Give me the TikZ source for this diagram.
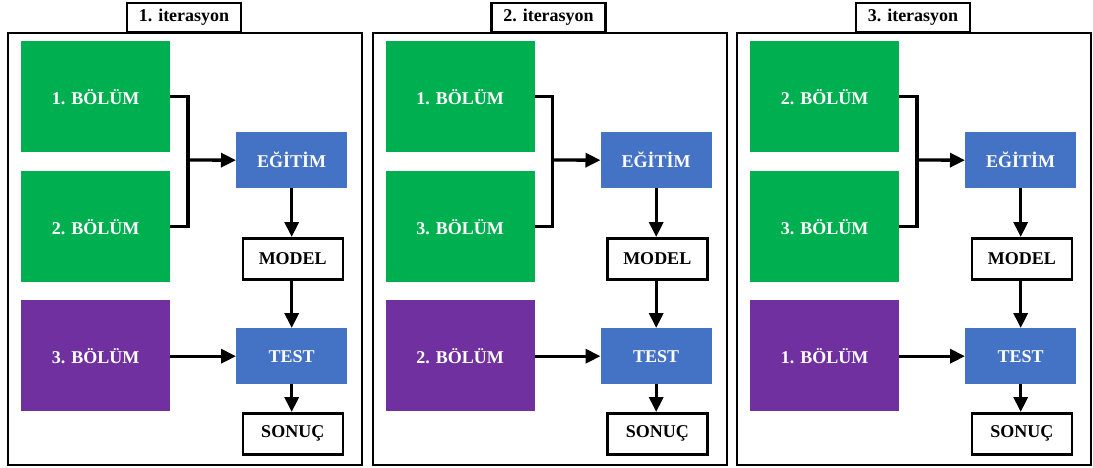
\documentclass[tikz,border=0pt]{standalone}
\usepackage{fontspec}
\setmainfont{Liberation Serif}
\usetikzlibrary{arrows.meta}
\definecolor{grn}{HTML}{00B050}
\definecolor{blu}{HTML}{4472C4}
\definecolor{pur}{HTML}{7030A0}
\begin{document}
\begin{tikzpicture}[x=1pt,y=-1pt,
  lbl/.style={font=\bfseries\fontsize{18}{20}\selectfont, inner sep=0pt, anchor=north west},
  part/.style={lbl, minimum width=149pt, minimum height=111pt, text=white},
  stage/.style={lbl, minimum width=111pt, minimum height=56pt, fill=blu, text=white},
  result/.style={lbl, minimum width=100pt, minimum height=41pt, draw=black, line width=2.5pt, fill=white},
  panel/.style={anchor=north west, draw=black, line width=2pt, minimum width=354pt, minimum height=432pt, inner sep=0pt},
  ttl/.style={font=\bfseries\fontsize{18}{20}\selectfont, draw=black, line width=2.5pt, fill=white, minimum width=114pt, minimum height=29pt, inner sep=0pt},
  conn/.style={line width=3.3pt, -{Triangle[length=15pt,width=14pt]}},
  brk/.style={line width=3.3pt}
]
\useasboundingbox (0,0) rectangle (1093,468);
\foreach \i/\a/\b/\c/\off in {1/1/2/3/0, 2/1/3/2/364.5, 3/2/3/1/729}{
  \begin{scope}[xshift=\off pt]
    \node[panel] (p\i) at (7,32) {};
    \node[ttl] (t\i) at (184,17.5) {\i. iterasyon};
    \node[part, fill=grn] (ga\i) at (21,41) {\a. BÖLÜM};
    \node[part, fill=grn] (gb\i) at (21,171) {\b. BÖLÜM};
    \node[part, fill=pur] (pc\i) at (21,300) {\c. BÖLÜM};
    \node[stage] (e\i) at (236,132) {EĞİTİM};
    \node[result] (m\i) at (241.5,237) {MODEL};
    \node[stage] (s\i) at (236,328) {TEST};
    \node[result] (r\i) at (241.5,412) {SONUÇ};
    \coordinate (j\i) at (188,160);
    \draw[brk] (ga\i.east) -| (j\i);
    \draw[brk] (gb\i.east) -| (j\i);
    \draw[conn] (j\i) -- (e\i.west);
    \draw[conn] (e\i.south) -- (e\i.south |- m\i.north);
    \draw[conn] (s\i.north |- m\i.south) -- (s\i.north);
    \draw[conn] (pc\i.east |- s\i.west) -- (s\i.west);
    \draw[conn] (s\i.south) -- (s\i.south |- r\i.north);
  \end{scope}
}
\end{tikzpicture}
\end{document}
